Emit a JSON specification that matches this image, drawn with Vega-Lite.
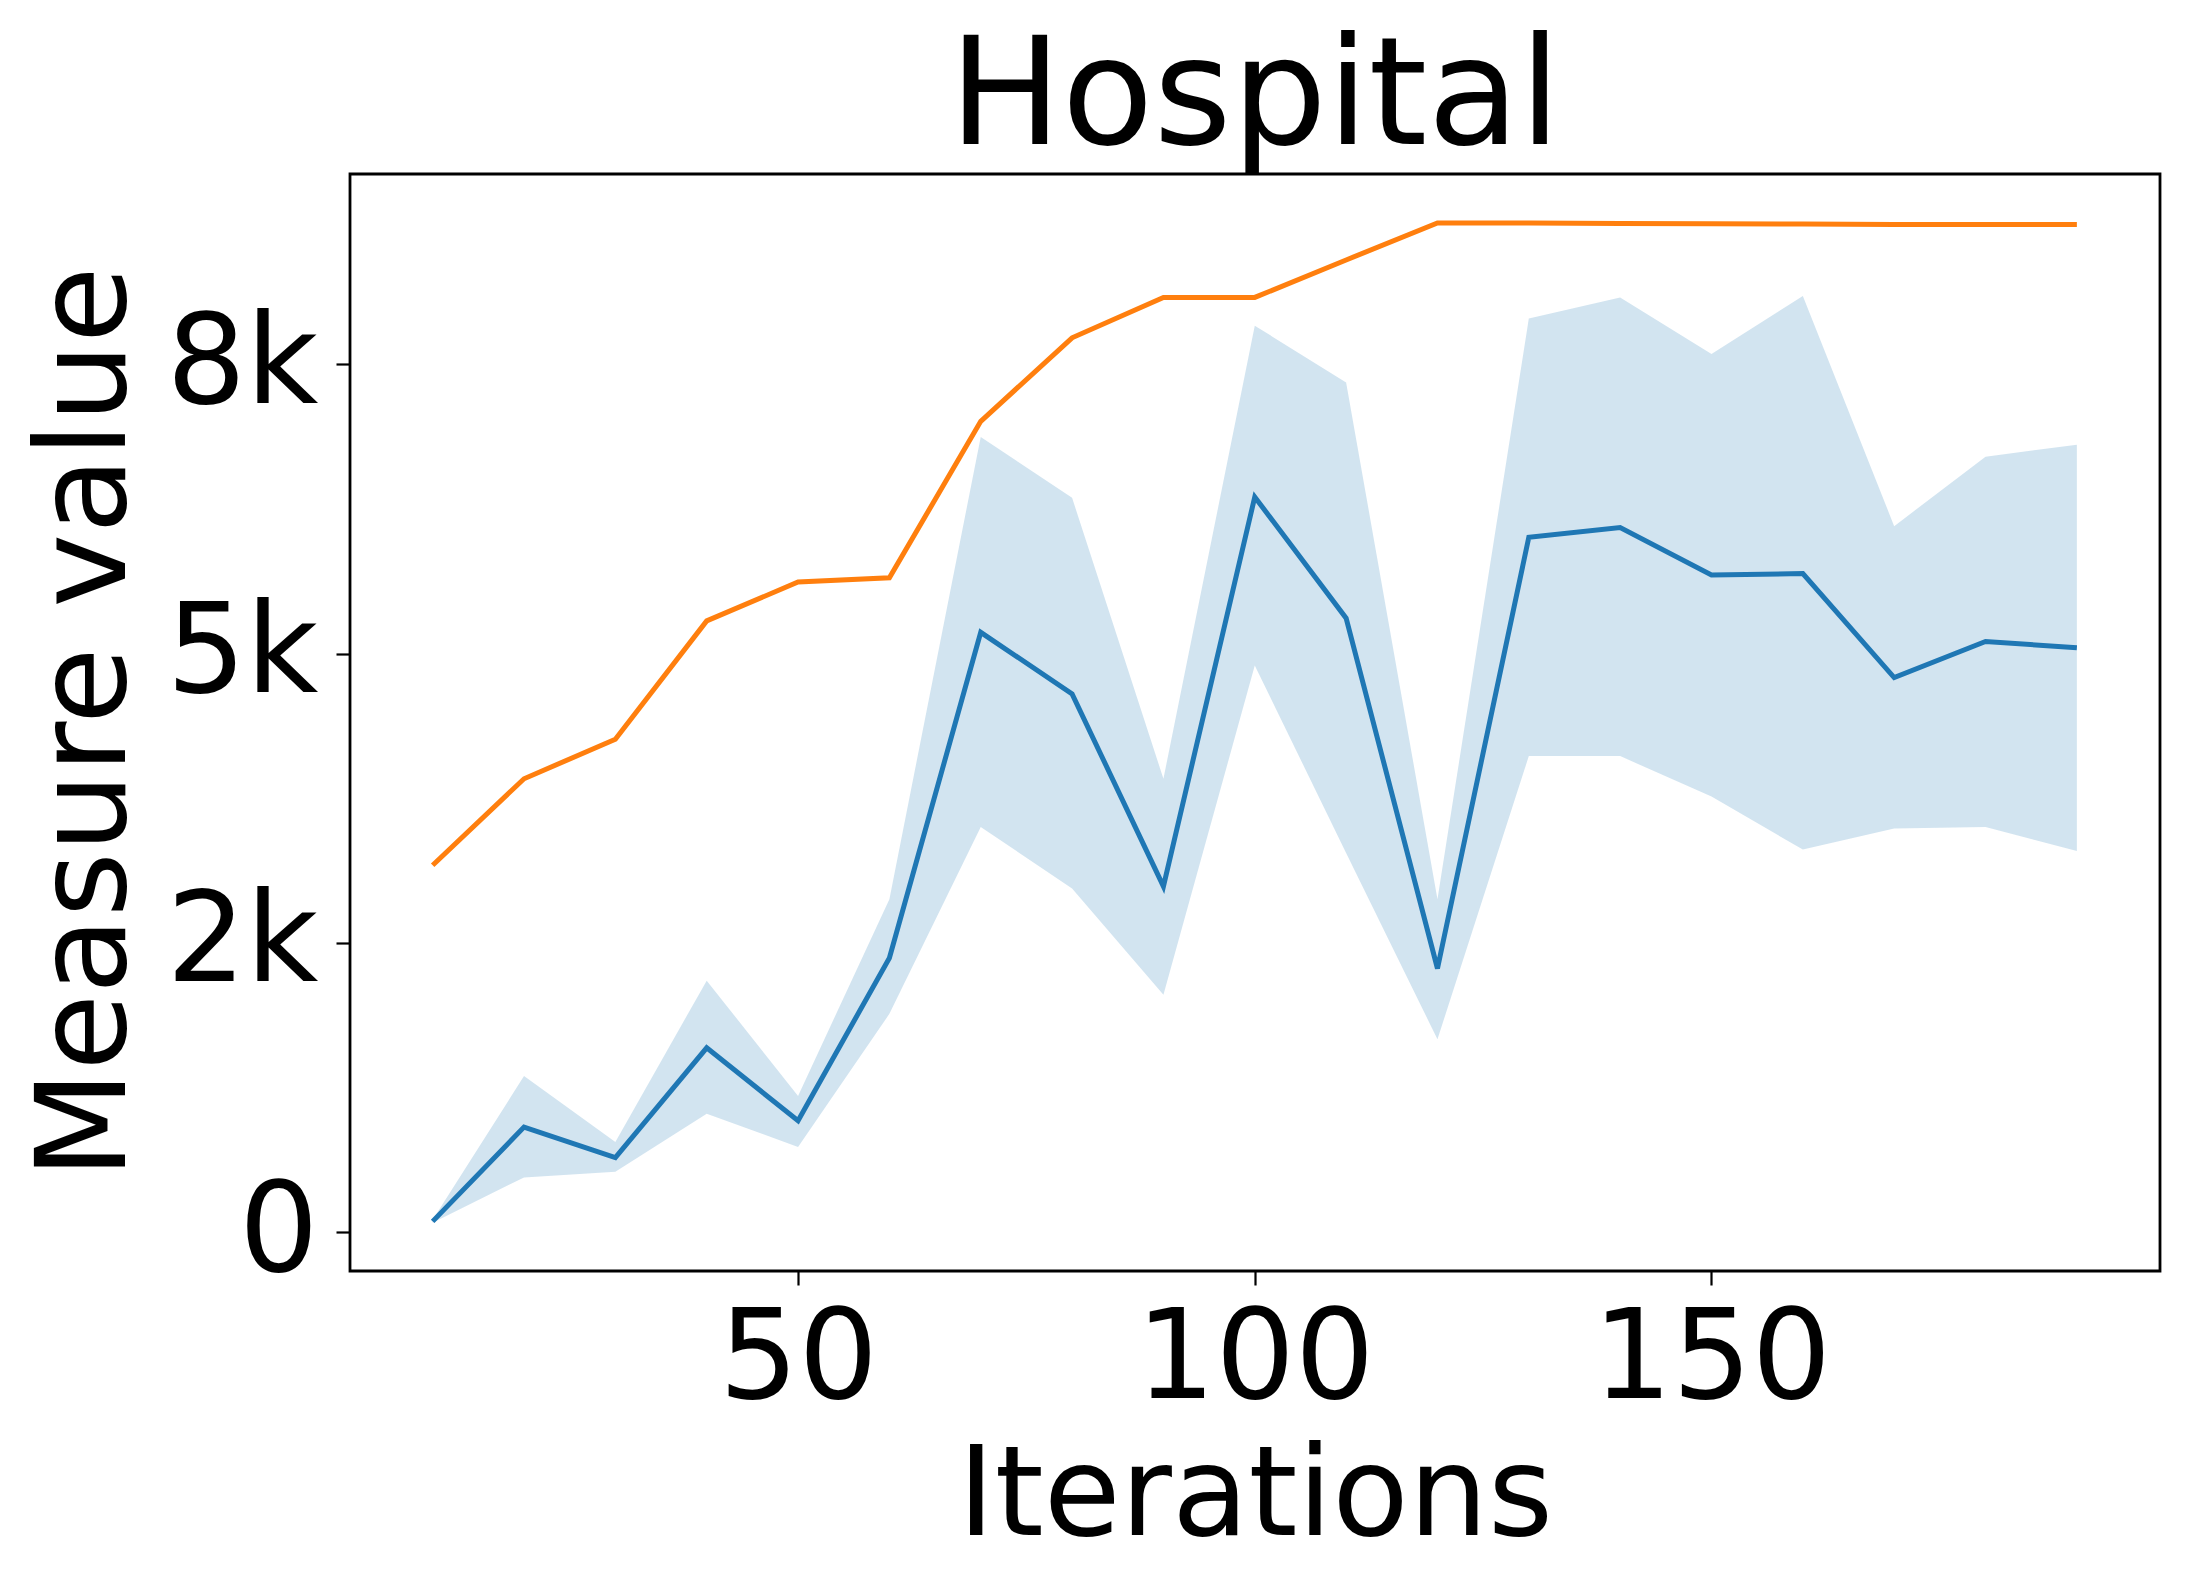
{
  "$schema": "https://vega.github.io/schema/vega-lite/v6.json",
  "autosize": {"type": "none"},
  "padding": {"left": 350, "top": 174, "right": 30, "bottom": 318},
  "width": 1810,
  "height": 1097,
  "background": "white",
  "title": {"text": "Hospital", "font": "DejaVu Sans", "fontSize": 150, "fontWeight": "normal", "color": "black", "anchor": "middle", "baseline": "alphabetic", "offset": 30, "dy": 150, "frame": "group"},
  "data": {"values": [
    {"it": 10, "mean": 92, "lo": 80, "hi": 105, "best": 3171},
    {"it": 20, "mean": 907, "lo": 472, "hi": 1348, "best": 3918},
    {"it": 30, "mean": 644, "lo": 521, "hi": 778, "best": 4260},
    {"it": 40, "mean": 1592, "lo": 1023, "hi": 2173, "best": 5283},
    {"it": 50, "mean": 962, "lo": 736, "hi": 1176, "best": 5619},
    {"it": 60, "mean": 2369, "lo": 1886, "hi": 2877, "best": 5655},
    {"it": 70, "mean": 5184, "lo": 3501, "hi": 6873, "best": 7008},
    {"it": 80, "mean": 4652, "lo": 2969, "hi": 6347, "best": 7730},
    {"it": 90, "mean": 2988, "lo": 2051, "hi": 3918, "best": 8079},
    {"it": 100, "mean": 6354, "lo": 4897, "hi": 7835, "best": 8079},
    {"it": 110, "mean": 5306, "lo": 3277, "hi": 7344, "best": 8403},
    {"it": 120, "mean": 2278, "lo": 1666, "hi": 2877, "best": 8722},
    {"it": 130, "mean": 6005, "lo": 4114, "hi": 7896, "best": 8722},
    {"it": 140, "mean": 6090, "lo": 4114, "hi": 8079, "best": 8718},
    {"it": 150, "mean": 5680, "lo": 3765, "hi": 7589, "best": 8716},
    {"it": 160, "mean": 5692, "lo": 3306, "hi": 8091, "best": 8713},
    {"it": 170, "mean": 4793, "lo": 3489, "hi": 6102, "best": 8710},
    {"it": 180, "mean": 5105, "lo": 3501, "hi": 6702, "best": 8709},
    {"it": 190, "mean": 5050, "lo": 3294, "hi": 6806, "best": 8710}
  ]},
  "encoding": {
    "x": {"field": "it", "type": "quantitative", "scale": {"domain": [0.95, 199.1], "nice": false, "zero": false},
      "axis": {"title": "Iterations", "values": [50, 100, 150], "labelBaseline": "alphabetic", "labelPadding": 112, "titleBaseline": "alphabetic", "titleY": 263, "titleX": 905}}
  },
  "layer": [
    {"mark": {"type": "area", "color": "#1f77b4", "opacity": 0.2},
      "encoding": {
        "y": {"field": "lo", "type": "quantitative", "scale": {"domain": [-337, 9146], "nice": false, "zero": false},
          "axis": {"title": "Measure value", "values": [0, 2500, 5000, 7500], "labelExpr": "datum.value==0?'0':datum.value==2500?'2k':datum.value==5000?'5k':'8k'", "labelPadding": 18, "labelBaseline": "middle", "titleBaseline": "alphabetic", "titleX": -226, "titleY": 548, "titleAngle": -90}},
        "y2": {"field": "hi"}
      }},
    {"mark": {"type": "line", "color": "#1f77b4", "strokeWidth": 5},
      "encoding": {"y": {"field": "mean", "type": "quantitative"}}},
    {"mark": {"type": "line", "color": "#ff7f0e", "strokeWidth": 5},
      "encoding": {"y": {"field": "best", "type": "quantitative"}}}
  ],
  "config": {
    "view": {"stroke": "black", "strokeWidth": 2.8},
    "axis": {"grid": false, "domain": false, "ticks": true, "tickColor": "black", "tickWidth": 2.2, "tickSize": 14,
      "labelFont": "DejaVu Sans", "labelFontSize": 125, "labelColor": "black", "labelFlush": false, "labelOverlap": false, "labelLimit": 0,
      "titleFont": "DejaVu Sans", "titleFontSize": 125, "titleColor": "black", "titleFontWeight": "normal", "titleLimit": 0}
  }
}
